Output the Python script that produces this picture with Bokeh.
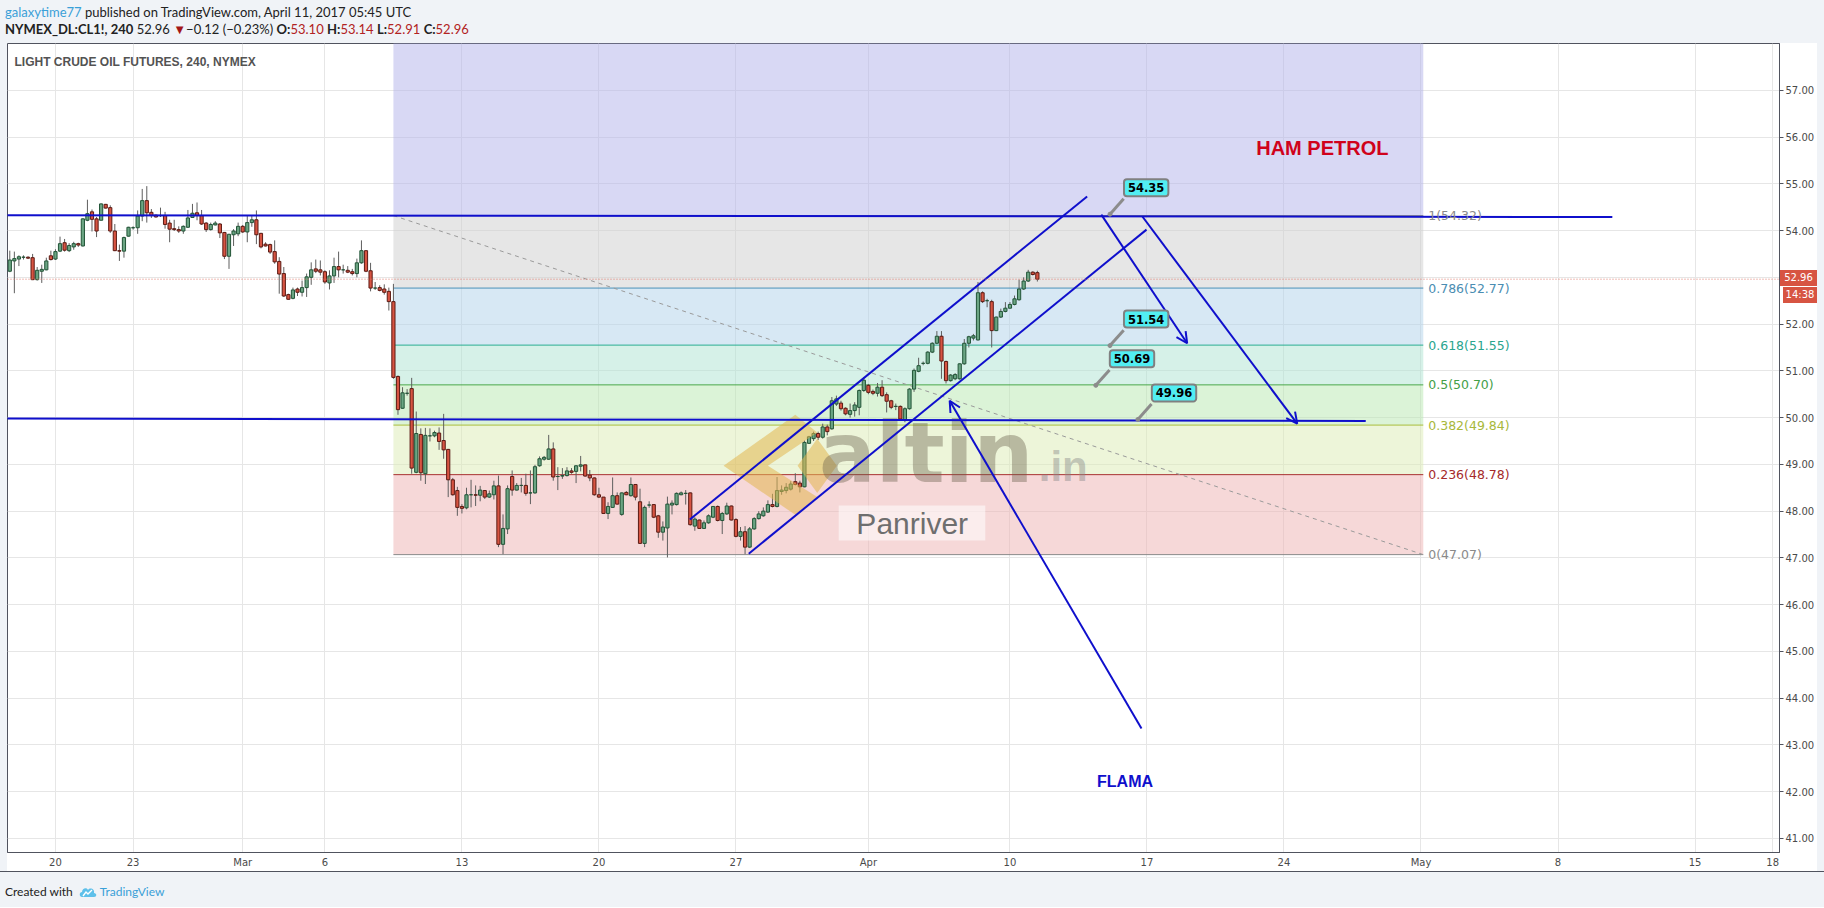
from bokeh.plotting import figure
from bokeh.models import (Range1d, FixedTicker, PrintfTickFormatter, Label, Arrow,
                          OpenHead, Div, Span)
from bokeh.layouts import column, row
from bokeh.embed import file_html
from bokeh.resources import INLINE
from bokeh.core.properties import value

# ---------------- data (4h candles, bar index 0..225) ----------------
OPEN = [53.13,53.35,53.39,53.43,53.43,53.42,52.95,53.13,53.16,53.46,53.39,53.56,53.74,53.57,53.65,53.72,53.67,54.22,54.40,54.25,
        54.22,54.56,54.49,53.99,53.57,53.56,53.88,54.06,54.06,54.31,54.64,54.39,54.33,54.32,54.32,54.16,54.04,54.02,53.99,54.07,
        54.28,54.38,54.32,54.16,54.02,54.12,54.14,53.96,53.45,53.91,53.93,54.09,53.97,54.17,54.23,53.94,53.71,53.70,53.55,53.34,
        53.08,52.63,52.55,52.75,52.68,52.78,53.00,53.18,53.16,53.12,52.88,53.03,53.23,53.16,53.15,53.12,53.08,53.31,53.57,53.14,
        52.77,52.78,52.75,52.70,52.48,50.88,50.20,50.52,50.62,48.83,49.64,48.80,49.61,49.61,49.67,49.51,49.32,48.67,48.44,48.10,
        48.07,48.35,48.35,48.34,48.44,48.30,48.35,48.54,47.29,47.62,48.74,48.45,48.55,48.55,48.39,48.39,48.97,49.11,49.11,49.33,
        48.74,48.75,48.76,48.86,48.85,48.96,48.99,48.77,48.71,48.35,48.30,47.95,48.08,48.33,47.93,48.40,48.33,48.57,48.20,47.31,
        48.13,48.14,47.90,47.55,47.64,48.13,48.14,48.35,48.38,48.39,47.68,47.81,47.63,47.75,47.87,48.10,47.80,47.94,48.11,47.82,
        47.46,47.56,47.23,47.62,47.84,47.90,47.98,48.14,48.10,48.42,48.44,48.47,48.63,48.60,48.52,49.45,49.55,49.66,49.58,49.80,
        49.76,50.29,50.31,50.20,50.07,50.15,50.22,50.58,50.69,50.56,50.52,50.65,50.49,50.36,50.24,50.24,49.95,50.19,50.61,50.99,
        51.16,51.16,51.40,51.59,51.74,51.20,50.79,50.83,50.83,51.15,51.59,51.70,51.66,52.67,52.50,52.48,51.86,52.15,52.27,52.34,
        52.42,52.52,52.75,52.92,53.11,53.10]
HIGH = [53.57,53.55,53.47,53.47,53.45,53.50,53.22,53.27,53.42,53.57,53.60,53.87,53.82,53.73,53.76,53.74,54.26,54.66,54.45,54.29,
        54.58,54.57,54.54,54.14,53.70,53.87,54.08,54.09,54.43,54.89,54.95,54.46,54.34,54.49,54.40,54.23,54.23,54.09,54.11,54.44,
        54.57,54.60,54.44,54.18,54.17,54.20,54.16,53.97,53.93,54.03,54.17,54.12,54.31,54.31,54.43,53.95,53.75,53.72,53.79,53.43,
        53.22,52.65,52.78,52.78,52.93,53.08,53.32,53.38,53.36,53.15,53.15,53.42,53.55,53.27,53.24,53.18,53.40,53.79,53.57,53.31,
        52.90,52.83,52.85,52.78,52.86,50.90,50.65,50.61,50.85,50.13,49.77,49.78,49.77,49.72,49.79,50.08,49.33,48.71,48.52,48.15,
        48.50,48.67,48.55,48.54,48.45,48.44,48.65,48.76,47.93,48.55,48.87,48.60,48.71,48.80,48.87,48.99,49.17,49.18,49.63,49.47,
        48.94,48.92,48.94,48.92,48.98,49.18,48.99,48.88,48.72,48.50,48.30,48.19,48.72,48.40,48.40,48.43,48.72,48.58,48.48,48.12,
        48.21,48.15,47.92,47.78,48.31,48.23,48.40,48.42,48.45,48.40,47.87,47.82,47.80,47.93,48.11,48.12,47.98,48.18,48.12,47.85,
        47.66,47.68,47.66,47.87,48.00,48.08,48.23,48.37,48.73,48.55,48.60,48.64,48.81,48.65,49.51,49.61,49.70,49.70,49.87,49.85,
        50.44,50.47,50.36,50.22,50.30,50.33,50.60,50.86,50.72,50.60,50.74,50.80,50.54,50.38,50.30,50.26,50.22,50.63,51.05,51.28,
        51.20,51.42,51.61,51.85,51.85,51.22,50.93,50.95,51.16,51.68,51.75,51.79,52.90,52.70,52.54,52.52,52.16,52.33,52.47,52.47,
        52.61,52.95,53.00,53.16,53.13,53.14]
LOW = [53.11,52.66,53.24,53.38,53.39,52.94,52.93,52.88,53.15,53.36,53.37,53.54,53.55,53.54,53.59,53.65,53.66,54.20,53.98,53.86,
       54.22,54.47,53.95,53.56,53.35,53.42,53.87,54.02,53.93,54.20,54.17,54.27,54.28,54.29,54.04,53.75,53.99,53.95,53.93,54.06,
       54.27,54.22,54.12,53.97,54.00,54.11,53.84,53.39,53.18,53.67,53.88,53.95,53.75,54.08,53.71,53.62,53.66,53.50,53.29,52.65,
       52.58,52.52,52.53,52.60,52.59,52.58,52.84,53.09,53.04,52.86,52.74,52.88,53.00,53.08,53.09,53.04,53.00,53.29,53.11,52.70,
       52.73,52.70,52.63,52.29,50.83,50.06,50.19,50.47,48.80,48.81,48.65,48.58,49.49,49.58,49.31,49.12,48.30,48.33,47.90,47.95,
       48.04,48.08,48.11,48.21,48.26,48.28,48.25,47.23,47.08,47.51,48.33,48.44,48.40,48.33,48.15,48.37,48.95,49.08,49.10,48.65,
       48.45,48.69,48.74,48.80,48.60,48.85,48.74,48.64,48.33,48.28,47.94,47.83,48.07,48.14,47.90,48.34,48.31,48.23,47.30,47.23,
       48.07,47.85,47.43,47.37,47.01,47.93,48.12,48.34,48.14,47.69,47.58,47.62,47.62,47.73,47.85,47.78,47.51,47.92,47.80,47.44,
       47.37,47.08,47.21,47.60,47.82,47.88,47.96,48.08,48.08,48.35,48.38,48.44,48.55,48.40,48.51,49.44,49.50,49.52,49.55,49.62,
       49.74,50.25,50.15,50.05,50.00,50.02,50.05,50.55,50.50,50.48,50.45,50.44,50.11,50.18,50.16,49.95,49.90,50.17,50.55,50.97,
       51.12,51.14,51.38,51.57,50.83,50.73,50.77,50.80,50.81,51.13,51.50,51.65,51.65,52.45,52.36,51.50,51.85,52.13,52.25,52.33,
       52.40,52.50,52.73,52.90,53.04,52.91]
CLOSE = [53.37,53.40,53.44,53.43,53.41,52.95,53.15,53.17,53.35,53.38,53.55,53.72,53.58,53.68,53.72,53.69,54.25,54.36,54.24,53.99,
         54.57,54.48,53.99,53.57,53.56,53.85,54.07,54.06,54.31,54.64,54.38,54.32,54.29,54.32,54.13,54.03,54.02,53.99,54.09,54.27,
         54.37,54.32,54.14,54.02,54.13,54.16,53.95,53.45,53.92,53.99,54.09,53.97,54.17,54.23,53.91,53.65,53.67,53.54,53.33,53.07,
         52.60,52.53,52.73,52.68,52.78,53.01,53.16,53.13,53.11,52.90,53.03,53.23,53.16,53.16,53.11,53.08,53.31,53.57,53.13,52.77,
         52.77,52.72,52.68,52.48,50.86,50.17,50.53,50.52,48.92,49.66,48.82,49.62,49.61,49.68,49.49,49.31,48.67,48.35,48.08,48.06,
         48.35,48.35,48.34,48.45,48.30,48.37,48.54,47.29,47.63,48.48,48.45,48.55,48.55,48.38,48.39,48.95,49.12,49.15,49.33,48.73,
         48.74,48.76,48.86,48.83,48.97,48.99,48.75,48.71,48.35,48.30,47.95,48.10,48.33,48.15,48.39,48.35,48.57,48.30,47.31,48.08,
         48.13,47.87,47.55,47.66,48.15,48.17,48.38,48.39,48.38,47.71,47.83,47.63,47.75,47.90,48.10,47.80,47.95,48.11,47.81,47.46,
         47.56,47.23,47.62,47.84,47.94,48.00,48.14,48.10,48.44,48.45,48.51,48.58,48.57,48.52,49.47,49.59,49.66,49.58,49.80,49.70,
         50.36,50.40,50.19,50.08,50.15,50.27,50.58,50.80,50.54,50.52,50.65,50.47,50.35,50.22,50.24,49.97,50.19,50.61,51.01,51.11,
         51.16,51.40,51.59,51.74,51.21,50.79,50.91,50.92,51.15,51.59,51.73,51.75,52.67,52.48,52.50,51.86,52.15,52.27,52.34,52.42,
         52.54,52.75,52.92,53.11,53.06,52.96]

PRICE_TICKS = [41, 42, 43, 44, 45, 46, 47, 48, 49, 50, 51, 52, 53, 54, 55, 56, 57]
DATE_TICKS = [10, 27, 51, 69, 99, 129, 159, 188, 219, 249, 279, 309, 339, 369, 386]
DATE_LABELS = ["20", "23", "Mar", "6", "13", "20", "27", "Apr", "10", "17", "24", "May", "8", "15", "18"]

X_RANGE = (-0.5, 387.5)
Y_RANGE = (40.70, 58.00)

LAST_PRICE = 52.96
COUNTDOWN = "14:38"

# Fibonacci retracement (anchors + levels)
FIB_START_X, FIB_END_X = 84, 309.5
FIB_HIGH, FIB_LOW = 54.32, 47.07
FIB_RATIOS = ["0", "0.236", "0.382", "0.5", "0.618", "0.786", "1"]
FIB_PRICES = [47.07, 48.78, 49.84, 50.70, 51.55, 52.77, 54.32]
FIB_TOP_EXT = 58.80   # 1.618 extension (off-chart)

# hand drawn annotations
HLINE_TOP_X, HLINE_TOP_Y = [-5, 350.9], [54.33, 54.29]
HLINE_MID_X, HLINE_MID_Y = [-5, 296.9], [49.98, 49.93]
CHANNEL_UP_X, CHANNEL_UP_Y = [148.9, 235.9], [47.82, 54.73]
CHANNEL_LO_X, CHANNEL_LO_Y = [161.8, 248.9], [47.09, 54.02]
ARROWS = [  # x_start, y_start, x_end, y_end
    (239.0, 54.34, 257.8, 51.59),
    (248.0, 54.30, 281.9, 49.87),
    (247.8, 43.35, 205.8, 50.36),
]
CALLOUT_X = [240.9, 240.9, 237.8, 247.0]
CALLOUT_PRICE = [54.35, 51.54, 50.69, 49.96]

# ---------------- styling ----------------
BLUE = "#0f0fcc"
UP_FILL, UP_LINE = "#6ba583", "#225437"
DN_FILL, DN_LINE = "#d75442", "#5b1a13"
WICK = "#5e5e5e"
GRID = "#e6e6e6"
AXIS_TXT = "#4a4a4a"
PAGE_BG = "#f0f3f7"
ZONE_COLORS = ["#edb1b1", "#dbebb3", "#b7e7af", "#ade3d1", "#afd1e9", "#cdcdcd", "#b1b1e9"]
LEVEL_COLORS = ["#8a8a8a", "#a83232", "#a9bd3c", "#49a84c", "#2bae92", "#4a90b8", "#8a8a8a"]
LABEL_COLORS = ["#8a8a8a", "#a52a2a", "#a8b83a", "#43a047", "#2aa58e", "#4a8db2", "#8a8a8a"]

W, H = 1810, 828
p = figure(width=W, height=H, x_range=Range1d(*X_RANGE), y_range=Range1d(*Y_RANGE),
           output_backend="svg", toolbar_location=None,
           x_axis_location="below", y_axis_location="right",
           min_border_left=0, min_border_top=0, min_border_right=38, min_border_bottom=19,
           background_fill_color="white", border_fill_color="white")
p.outline_line_color = "#50535e"
p.outline_line_width = 1

# axes
p.yaxis.ticker = FixedTicker(ticks=PRICE_TICKS)
p.yaxis.formatter = PrintfTickFormatter(format="%.2f")
p.yaxis.major_tick_out = 4
p.yaxis.major_tick_in = 0
p.yaxis.minor_tick_line_color = None
p.yaxis.major_tick_line_color = "#50535e"
p.yaxis.axis_line_color = "#50535e"
p.yaxis.major_label_standoff = 2
p.yaxis.major_label_text_font = "DejaVu Sans"
p.yaxis.major_label_text_font_size = "10px"
p.yaxis.major_label_text_color = AXIS_TXT

xt = FixedTicker(ticks=DATE_TICKS)
p.xaxis.ticker = xt
p.xaxis.major_label_overrides = {t: l for t, l in zip(DATE_TICKS, DATE_LABELS)}
p.xaxis.major_tick_out = 0
p.xaxis.major_tick_in = 0
p.xaxis.minor_tick_line_color = None
p.xaxis.axis_line_color = "#50535e"
p.xaxis.major_label_standoff = 4
p.xaxis.major_label_text_font = "DejaVu Sans"
p.xaxis.major_label_text_font_size = "10px"
p.xaxis.major_label_text_color = AXIS_TXT

p.xgrid.ticker = xt
p.ygrid.ticker = FixedTicker(ticks=PRICE_TICKS)
p.grid.grid_line_color = GRID

# fib zones
zb = FIB_PRICES
zt = FIB_PRICES[1:] + [FIB_TOP_EXT]
p.quad(left=FIB_START_X, right=FIB_END_X, bottom=zb, top=zt,
       fill_color=ZONE_COLORS, fill_alpha=0.5, line_color=None)
p.segment(x0=[FIB_START_X] * len(FIB_PRICES), y0=FIB_PRICES,
          x1=[FIB_END_X] * len(FIB_PRICES), y1=FIB_PRICES,
          line_color=LEVEL_COLORS, line_width=1)
p.line([FIB_START_X, FIB_END_X], [FIB_HIGH, FIB_LOW], line_color="#9a9a9a",
       line_dash="4 4", line_width=1)
for r, pr, c in zip(FIB_RATIOS, FIB_PRICES, LABEL_COLORS):
    p.add_layout(Label(x=FIB_END_X, y=pr, x_offset=5, text=f"{r}({pr:.2f})",
                       text_baseline="middle", text_align="left",
                       text_font="DejaVu Sans", text_font_size="12.5px", text_color=c))

# last price line
p.add_layout(Span(location=LAST_PRICE, dimension="width", line_color="#e07a6d",
                  line_dash="1 2", line_width=1))

# candles
idx = list(range(len(OPEN)))
p.segment(x0=idx, y0=LOW, x1=idx, y1=HIGH, line_color=WICK, line_width=1)
up = [i for i in idx if CLOSE[i] >= OPEN[i]]
dn = [i for i in idx if CLOSE[i] < OPEN[i]]
p.vbar(x=up, width=0.7, bottom=[OPEN[i] for i in up], top=[CLOSE[i] for i in up],
       fill_color=UP_FILL, line_color=UP_LINE, line_width=1)
p.vbar(x=dn, width=0.7, bottom=[CLOSE[i] for i in dn], top=[OPEN[i] for i in dn],
       fill_color=DN_FILL, line_color=DN_LINE, line_width=1)

# watermark (decoration): logo, "altin.in", "Panriver"
p.patches(xs=[[172.0, 156.3, 172.0, 176.8, 166.0, 176.8],
              [172.5, 176.8, 181.1, 176.8]],
          ys=[[50.06, 48.97, 47.92, 48.30, 48.97, 49.68],
              [48.97, 49.55, 48.97, 48.39]],
          fill_color="#e2b650", fill_alpha=0.55, line_color=None)
p.text(x=[177.2], y=[49.25], text=["altin"], text_align="left", text_baseline="alphabetic",
       text_font=value("DejaVu Sans"), text_font_size="84px", text_font_style="bold",
       text_color="#6a5f4c", text_alpha=0.4)
p.text(x=[225.3], y=[48.96], text=[".in"], text_align="left", text_baseline="alphabetic",
       text_font=value("Liberation Sans"), text_font_size="42px", text_font_style="bold",
       text_color="#8a8a8a", text_alpha=0.45)
p.quad(left=181.5, right=213.6, bottom=47.37, top=48.12, fill_color="white",
       fill_alpha=0.55, line_color=None)
p.text(x=[197.6], y=[47.745], text=["Panriver"], text_align="center", text_baseline="middle",
       text_font=value("Liberation Sans"), text_font_size="30px", text_color="#6e6e6e")

# blue drawings
p.line(HLINE_TOP_X, HLINE_TOP_Y, line_color=BLUE, line_width=2)
p.line(HLINE_MID_X, HLINE_MID_Y, line_color=BLUE, line_width=2)
p.line(CHANNEL_UP_X, CHANNEL_UP_Y, line_color=BLUE, line_width=2)
p.line(CHANNEL_LO_X, CHANNEL_LO_Y, line_color=BLUE, line_width=2)
for xs, ys, xe, ye in ARROWS:
    p.add_layout(Arrow(end=OpenHead(size=11, line_color=BLUE, line_width=2),
                       x_start=xs, y_start=ys, x_end=xe, y_end=ye,
                       line_color=BLUE, line_width=2))

# callouts
p.segment(x0=CALLOUT_X, y0=CALLOUT_PRICE, x1=[x + 3.0 for x in CALLOUT_X],
          y1=[v + 0.33 for v in CALLOUT_PRICE], line_color="#8c8c8c", line_width=3)
p.scatter(CALLOUT_X, CALLOUT_PRICE, size=4, color="#8c8c8c")
for x, v in zip(CALLOUT_X, CALLOUT_PRICE):
    p.add_layout(Label(x=x, y=v, x_offset=14, y_offset=18, text=f"{v:.2f}",
                       text_align="left", text_baseline="bottom",
                       text_font="DejaVu Sans", text_font_size="11.5px", text_font_style="bold",
                       text_color="black", background_fill_color="#52eef2",
                       border_line_color="#808080", border_line_width=2,
                       padding=4, border_radius=3))

# texts
p.add_layout(Label(x=X_RANGE[0], y=Y_RANGE[1], x_offset=7, y_offset=-18,
                   text="LIGHT CRUDE OIL FUTURES, 240, NYMEX", text_baseline="middle",
                   text_font="Liberation Sans", text_font_size="12px",
                   text_font_style="bold", text_color="#535353"))
p.add_layout(Label(x=287.4, y=55.755, text="HAM PETROL", text_align="center",
                   text_baseline="middle", text_font="Liberation Sans",
                   text_font_size="20px", text_font_style="bold", text_color="#d0021b"))
p.add_layout(Label(x=244.2, y=42.22, text="FLAMA", text_align="center",
                   text_baseline="middle", text_font="Liberation Sans",
                   text_font_size="16px", text_font_style="bold", text_color=BLUE))

# price tags over the price axis (page-positioned HTML, drawn above the chart)
TAG_CSS = ("position:absolute;z-index:100;background:#d75442;color:#fff;"
           "font:10px 'DejaVu Sans',sans-serif;line-height:16px;height:16px;text-align:center;")
PRICE_TAGS = (
    f'<div style="{TAG_CSS}left:1780px;top:270px;width:37px;">{LAST_PRICE:.2f}</div>'
    f'<div style="{TAG_CSS}left:1783px;top:287px;width:34px;">{COUNTDOWN}</div>')

HEADER = (
    '<div style="font-family:Lato,sans-serif;font-size:13px;line-height:17px;color:#222;'
    'padding:4px 0 0 5px;white-space:nowrap;">'
    '<span style="color:#3aa0d8">galaxytime77</span> published on TradingView.com, April 11, 2017 05:45 UTC<br>'
    '<b>NYMEX_DL:CL1!, 240</b> 52.96 <span style="color:#a31616">&#9660;</span>&minus;0.12 (&minus;0.23%) '
    '<b>O:</b><span style="color:#b22222">53.10</span> <b>H:</b><span style="color:#b22222">53.14</span> '
    '<b>L:</b><span style="color:#b22222">52.91</span> <b>C:</b><span style="color:#b22222">52.96</span>'
    '</div>' + PRICE_TAGS)
FOOTER = (
    '<div style="font-family:Lato,sans-serif;font-size:12px;color:#222;padding:11px 0 0 5px;white-space:nowrap;">'
    'Created with &nbsp;<svg width="18" height="13" viewBox="0 0 18 13" style="vertical-align:-2px">'
    '<path d="M3 12 C0 12 0 7 3 7 C3 3 8 2 9 5 C11 2 16 4 15 8 C18 8 18 12 15 12 Z" fill="#5ec0ea"/>'
    '<path d="M4 11 L7 7 L9 9 L13 5" stroke="white" stroke-width="1.4" fill="none"/></svg>'
    ' <span style="color:#3aa0d8">TradingView</span></div>')

header = Div(text=HEADER, width=1824, height=43, margin=0,
             styles={"background-color": PAGE_BG, "overflow": "visible", "z-index": "10"})
left_pad = Div(text="&nbsp;", width=7, height=H, margin=0, styles={"background-color": PAGE_BG})
right_pad = Div(text="&nbsp;", width=7, height=H, margin=0, styles={"background-color": PAGE_BG})
footer = Div(text=FOOTER, width=1824, height=36, margin=0,
             styles={"background-color": PAGE_BG, "border-top": "1px solid #50535e"})

layout = column(header, row(left_pad, p, right_pad, spacing=0), footer, spacing=0)
open("out.html", "w").write(file_html(layout, INLINE))
